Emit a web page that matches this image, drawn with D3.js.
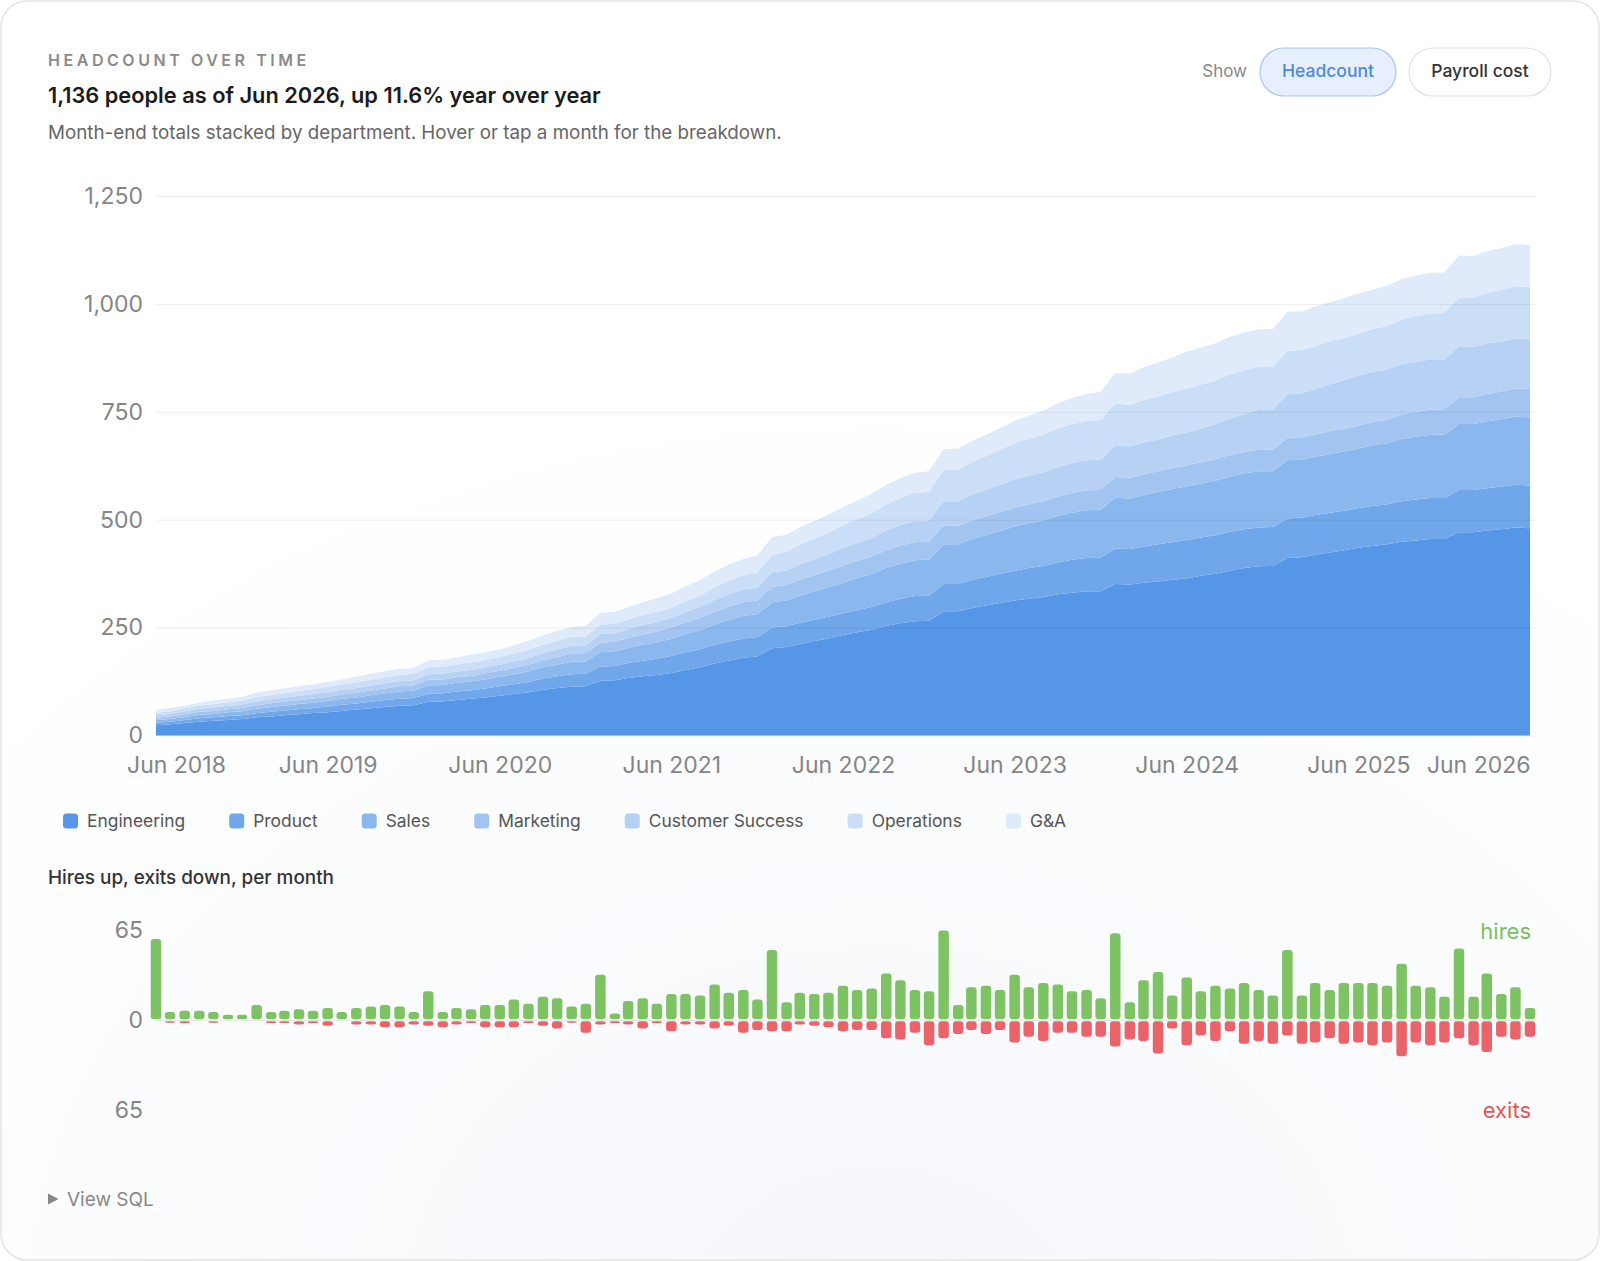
<!DOCTYPE html>
<html>
<head>
<meta charset="utf-8">
<script src="https://cdn.jsdelivr.net/npm/d3@7"></script>
<style>
  html, body { margin: 0; padding: 0; background: #fff; }
  svg { display: block; font-family: Inter, "Noto Sans", sans-serif; }
</style>
</head>
<body>
<svg id="chart" width="1600" height="1261"></svg>
<script>
// month-end headcount per department, Jun 2018 .. Jun 2026
const departments = ['Engineering', 'Product', 'Sales', 'Marketing', 'Customer Success', 'Operations', 'G&A'];
const deptColors = ['#5696e6', '#70a7ea', '#8ab7ee', '#a1c4f1', '#b6d1f4', '#cadef7', '#dfeafa'];

const engineering = [24,26,29,32,34,36,38,42,44,47, 49,52,54,57,60,63,66,69,70,78, 79,82,85,88,92,96,100,106,110,113, 114,127,128,133,137,140,145,152,158,167, 174,180,183,202,205,212,219,225,233,239, 245,254,260,265,266,288,288,295,301,307, 313,317,321,327,331,334,334,351,350,354, 357,361,364,370,375,382,388,392,393,411, 413,419,424,429,435,439,443,449,452,455, 455,471,471,475,478,482,480];
const product = [6,6,7,8,8,9,9,10,11,11, 12,12,13,14,14,15,16,16,17,19, 19,20,20,21,22,23,24,26,27,29, 29,33,33,35,36,38,39,41,42,43, 44,45,45,48,48,49,49,50,50,52, 53,55,57,58,58,63,63,65,66,68, 69,71,72,74,76,77,78,82,82,84, 86,87,89,89,89,90,90,90,90,92, 92,92,92,92,92,93,93,94,95,95, 95,98,98,98,99,99,99];
const sales = [6,6,7,8,8,9,9,10,11,11, 12,12,13,14,14,15,16,17,17,19, 19,20,20,21,22,23,24,26,27,29, 29,33,34,35,37,38,40,42,44,47, 50,52,53,59,60,63,66,68,71,74, 76,79,81,83,84,92,92,95,97,99, 102,104,105,108,109,111,111,118,117,119, 121,123,124,125,126,128,129,130,129,135, 134,135,136,137,138,140,141,144,145,147, 147,153,153,155,156,158,158];
const marketing = [5,6,6,7,7,7,8,8,9,9, 9,10,10,10,11,11,11,12,12,13, 13,13,13,14,14,15,16,17,18,19, 19,22,22,23,24,25,26,27,28,30, 31,32,32,35,36,37,38,39,40,40, 41,41,42,42,41,44,43,43,44,44, 44,44,45,45,46,46,46,48,48,48, 48,49,49,49,50,50,50,51,50,52, 52,52,53,53,53,54,55,57,58,58, 59,62,62,63,64,65,66];
const customerSuccess = [6,6,7,7,8,8,8,9,9,10, 10,10,11,11,11,12,12,12,12,13, 13,13,14,14,14,15,15,16,17,18, 18,20,20,21,22,22,23,24,25,27, 28,29,30,34,34,36,37,38,40,41, 43,46,48,49,50,56,57,59,61,63, 66,66,67,68,69,70,70,73,73,74, 74,75,76,78,81,85,88,91,93,100, 102,105,109,112,116,116,116,116,116,116, 115,118,117,117,116,116,115];
const operations = [6,6,7,7,8,8,9,10,10,10, 11,11,12,12,13,13,14,14,15,16, 16,17,17,17,18,18,19,20,20,21, 20,22,22,22,23,23,23,25,27,29, 32,34,35,40,42,45,47,50,53,55, 57,60,63,65,66,72,73,76,78,81, 84,85,87,89,90,91,92,97,96,98, 99,101,102,102,101,102,101,100,99,101, 100,99,99,98,97,99,101,104,106,107, 108,113,114,117,119,121,121];
const gAndA = [6,8,6,7,8,8,8,11,10,11, 11,12,11,12,13,14,14,14,14,16, 16,16,18,18,17,19,21,21,23,22, 25,27,28,29,29,32,33,34,36,37, 37,37,39,42,40,40,41,42,42,43, 45,46,45,47,47,49,49,49,50,50, 51,54,56,59,61,63,65,71,73,76, 79,80,85,86,87,87,88,87,88,91, 90,92,90,92,93,92,93,93,94,94, 94,97,96,97,97,98,97];

// monthly hires and exits
const hires = [59,6,7,7,6,4,4,11,6,7, 8,7,9,6,9,10,11,10,6,21, 6,9,8,11,11,15,12,17,16,10, 12,33,5,14,16,12,19,19,18,26, 20,22,15,51,13,20,19,20,25,22, 23,34,29,22,21,65,11,24,25,22, 33,24,27,26,21,22,16,63,13,29, 35,18,31,21,25,23,27,22,18,51, 18,27,22,27,27,27,25,41,25,24, 17,52,17,34,19,24,9];
const exits = [0,1,2,0,1,0,0,0,2,2, 3,2,4,0,3,3,5,5,3,4, 5,3,2,5,5,5,2,4,6,1, 9,3,2,3,6,2,8,3,3,6, 4,9,7,8,8,3,4,5,8,7, 7,13,14,9,18,13,10,7,10,7, 16,12,15,9,9,12,12,19,14,15, 24,6,18,11,15,8,17,15,17,11, 17,16,13,17,16,18,16,26,16,18, 16,13,18,23,12,14,12];

const headTicks = [0, 250, 500, 750, 1000, 1250];
const flowTicks = [-65, 0, 65];

const series = [engineering, product, sales, marketing, customerSuccess, operations, gAndA];
const months = d3.utcMonth.range(new Date(Date.UTC(2018, 5, 1)), new Date(Date.UTC(2026, 6, 1)));
const rows = months.map((m, i) => {
    const r = { date: m, hires: hires[i], exits: exits[i] };
    departments.forEach((d, k) => (r[d] = series[k][i]));
    return r;
});

const svg = d3.select('#chart');
const W = 1600, H = 1261;

// card
const defs = svg.append('defs');
const grad = defs.append('radialGradient').attr('id', 'bg')
    .attr('cx', 0.55).attr('cy', 1.05).attr('r', 0.75);
grad.append('stop').attr('offset', '0%').attr('stop-color', '#f5f7fb');
grad.append('stop').attr('offset', '100%').attr('stop-color', '#ffffff');
svg.append('rect').attr('x', 1).attr('y', 1).attr('width', W - 2).attr('height', H - 2)
    .attr('rx', 26).attr('fill', 'url(#bg)').attr('stroke', '#e4e4e4').attr('stroke-width', 1.5);

// header
svg.append('text').attr('x', 48).attr('y', 66).text('HEADCOUNT OVER TIME')
    .attr('font-size', 16).attr('font-weight', 600).attr('letter-spacing', 3.55).attr('fill', '#8a8a8a');
svg.append('text').attr('x', 48).attr('y', 103).text('1,136 people as of Jun 2026, up 11.6% year over year')
    .attr('font-size', 21.8).attr('font-weight', 600).attr('fill', '#1b1b1b');
svg.append('text').attr('x', 48).attr('y', 139)
    .text('Month-end totals stacked by department. Hover or tap a month for the breakdown.')
    .attr('font-size', 18.8).attr('fill', '#666');

// toggle
svg.append('text').attr('x', 1247).attr('y', 77).attr('text-anchor', 'end').text('Show')
    .attr('font-size', 17).attr('fill', '#888');
const toggles = [
    { label: 'Headcount', x: 1260, w: 136, fill: '#e7effc', stroke: '#a9c6f0', color: '#4a89e0' },
    { label: 'Payroll cost', x: 1409, w: 142, fill: '#ffffff', stroke: '#e2e2e2', color: '#333' },
];
const tg = svg.append('g').selectAll('g').data(toggles).join('g');
tg.append('rect').attr('x', d => d.x).attr('y', 48).attr('width', d => d.w).attr('height', 48)
    .attr('rx', 24).attr('fill', d => d.fill).attr('stroke', d => d.stroke).attr('stroke-width', 1.2);
tg.append('text').attr('x', d => d.x + d.w / 2).attr('y', 77).attr('text-anchor', 'middle')
    .attr('font-size', 17.5).attr('font-weight', 500).attr('fill', d => d.color).text(d => d.label);

// stacked area
const left = 156, right = 1530, gridRight = 1536;
const x = d3.scaleUtc().domain([months[0], months[months.length - 1]]).range([left, right]);
const y = d3.scaleLinear().domain([0, 1250]).range([735.5, 196]);

const stacked = d3.stack().keys(departments)(rows);
const area = d3.area().x(d => x(d.data.date)).y0(d => y(d[0])).y1(d => y(d[1]));

svg.append('g').selectAll('path').data(stacked).join('path')
    .attr('d', area).attr('fill', (d, i) => deptColors[i]);

const yAxis = svg.append('g').attr('transform', `translate(${left},0)`)
    .call(d3.axisLeft(y).tickValues(headTicks).tickSize(-(gridRight - left)).tickPadding(13)
        .tickFormat(d3.format(',')));
yAxis.select('.domain').remove();
yAxis.selectAll('line').attr('stroke', 'rgba(0,0,0,0.065)');
yAxis.selectAll('text').attr('font-size', 23).attr('fill', '#858585').attr('font-family', 'Inter');

const junes = months.filter(m => m.getUTCMonth() === 5);
const xAxis = svg.append('g').attr('transform', 'translate(0,735.5)')
    .call(d3.axisBottom(x).tickValues(junes).tickSize(0).tickPadding(21).tickFormat(d3.utcFormat('%b %Y')));
xAxis.select('.domain').remove();
xAxis.selectAll('text').attr('font-size', 23).attr('fill', '#858585').attr('font-family', 'Inter');
xAxis.selectAll('.tick').filter((d, i) => i === 0).select('text')
    .attr('text-anchor', 'start').attr('dx', -29.5);
xAxis.selectAll('.tick').filter((d, i) => i === junes.length - 1).select('text')
    .attr('text-anchor', 'end');

// legend
const legend = svg.append('g').attr('transform', 'translate(63,821)');
let lx = 0;
departments.forEach((d, i) => {
    const g = legend.append('g').attr('transform', `translate(${lx},0)`);
    g.append('rect').attr('x', 0).attr('y', -7.5).attr('width', 15).attr('height', 15).attr('rx', 3.5)
        .attr('fill', deptColors[i]);
    const t = g.append('text').attr('x', 24).attr('y', 6.3).text(d)
        .attr('font-size', 17.4).attr('fill', '#555');
    lx += 24 + t.node().getComputedTextLength() + 44.1;
});

// hires / exits
svg.append('text').attr('x', 48).attr('y', 884).text('Hires up, exits down, per month')
    .attr('font-size', 18.9).attr('font-weight', 500).attr('fill', '#333');

const yb = d3.scaleLinear().domain([-65, 65]).range([1110, 930.6]);
const bw = 10.5;

const bAxis = svg.append('g').attr('transform', `translate(${left},0)`)
    .call(d3.axisLeft(yb).tickValues(flowTicks).tickSize(0).tickPadding(13).tickFormat(d => Math.abs(d)));
bAxis.select('.domain').remove();
bAxis.selectAll('text').attr('font-size', 23).attr('fill', '#858585').attr('font-family', 'Inter');

svg.append('line').attr('x1', left).attr('x2', gridRight).attr('y1', yb(0)).attr('y2', yb(0))
    .attr('stroke', '#e2e2e2');

svg.append('g').selectAll('rect').data(rows).join('rect')
    .attr('x', d => x(d.date) - bw / 2).attr('width', bw)
    .attr('y', d => yb(d.hires)).attr('height', d => Math.max(0, yb(0) - 1 - yb(d.hires)))
    .attr('rx', 3).attr('fill', '#7ec363');

svg.append('g').selectAll('rect').data(rows.filter(d => d.exits > 0)).join('rect')
    .attr('x', d => x(d.date) - bw / 2).attr('width', bw)
    .attr('y', yb(0) + 1).attr('height', d => Math.max(1.5, yb(-d.exits) - yb(0) - 1))
    .attr('rx', 3).attr('fill', '#e8646a');

svg.append('text').attr('x', 1531).attr('y', 939).attr('text-anchor', 'end').text('hires')
    .attr('font-size', 22).attr('fill', '#7abf5d');
svg.append('text').attr('x', 1531).attr('y', 1118).attr('text-anchor', 'end').text('exits')
    .attr('font-size', 22).attr('fill', '#e05858');

// view sql
svg.append('path').attr('d', 'M48,1193.5 L58.5,1199 L48,1204.5 Z').attr('fill', '#888');
svg.append('text').attr('x', 67).attr('y', 1206).text('View SQL')
    .attr('font-size', 19).attr('fill', '#888');
</script>
</body>
</html>
